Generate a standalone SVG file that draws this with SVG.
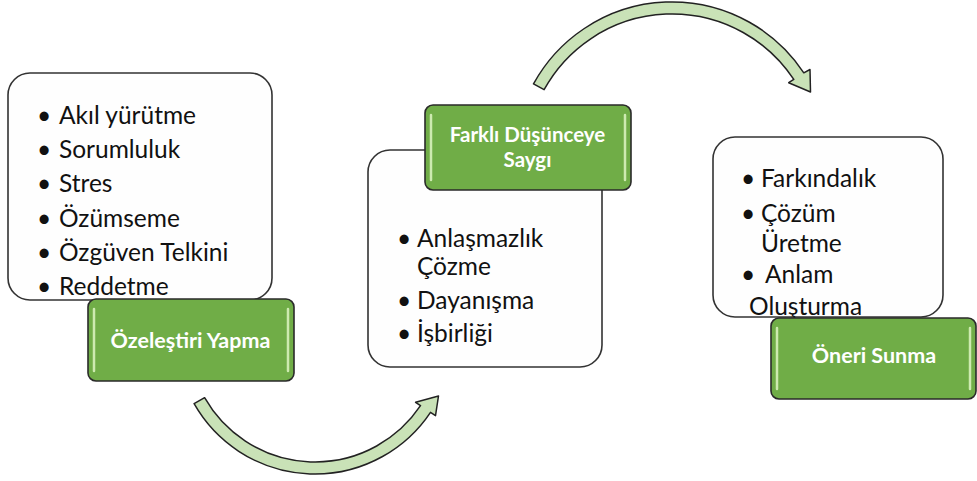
<svg xmlns="http://www.w3.org/2000/svg" width="977" height="481" viewBox="0 0 977 481">
  <defs>
    <style>
      .card { fill: #fefefe; stroke: #333333; stroke-width: 1.6; }
      .tag { fill: #70ad47; stroke: #2a2a2a; stroke-width: 1.6; }
      .shine { stroke: #cdeab0; stroke-width: 2.5; stroke-linecap: round; fill: none; }
      .item { font-family: Lato, "Noto Sans", "Liberation Sans", sans-serif; font-size: 24.5px; fill: #111111; }
      .label { font-family: Lato, "Noto Sans", "Liberation Sans", sans-serif; font-size: 21.5px; font-weight: bold; fill: #ffffff; text-anchor: middle; }
      .label.two { font-size: 20.5px; }
      .flow { fill: #c9e2b7; stroke: #222222; stroke-width: 1.5; stroke-linejoin: round; }
    </style>
  </defs>

  <rect width="977" height="481" fill="#ffffff"/>

  <!-- curved connectors -->
  <g id="connectors">
    <path class="flow" d="M194.1,403.7 A139,139 0 0 0 430.5,412.3 L435.5,415.7 L438.5,396 L415.6,402.3 L420.5,405.7 A127,127 0 0 1 204.6,397.7 Z"/>
    <path class="flow" d="M533.5,83.9 A158,158 0 0 1 803.8,72.8 L810,69.5 L810.5,92 L788.7,82.7 L793.8,79.4 A146,146 0 0 0 544.1,89.7 Z"/>
  </g>

  <!-- stage 1 -->
  <g id="stage1">
    <rect class="card" x="8" y="73" width="264" height="227" rx="22"/>
    <g class="item">
      <text x="37" y="124">•</text><text x="59" y="124">Akıl yürütme</text>
      <text x="37" y="158">•</text><text x="59" y="158">Sorumluluk</text>
      <text x="37" y="192">•</text><text x="59" y="192">Stres</text>
      <text x="37" y="226.5">•</text><text x="59" y="226.5">Özümseme</text>
      <text x="37" y="261">•</text><text x="59" y="261">Özgüven Telkini</text>
      <text x="37" y="295">•</text><text x="59" y="295">Reddetme</text>
    </g>
    <g id="stage1-tag">
      <rect class="tag" x="88" y="299" width="206" height="82" rx="8"/>
      <line class="shine" x1="94" y1="309" x2="94" y2="371"/>
      <line class="shine" x1="288" y1="309" x2="288" y2="371"/>
      <text class="label" x="190.5" y="348">Özeleştiri Yapma</text>
    </g>
  </g>

  <!-- stage 2 -->
  <g id="stage2">
    <rect class="card" x="368" y="150" width="234" height="217" rx="22"/>
    <g class="item">
      <text x="397" y="246.5">•</text><text x="417" y="246.5">Anlaşmazlık</text>
      <text x="417" y="275">Çözme</text>
      <text x="397" y="308.5">•</text><text x="417" y="308.5">Dayanışma</text>
      <text x="397" y="341.5">•</text><text x="417" y="341.5">İşbirliği</text>
    </g>
    <g id="stage2-tag">
      <rect class="tag" x="425" y="105" width="206" height="85" rx="8"/>
      <line class="shine" x1="431" y1="115" x2="431" y2="180"/>
      <line class="shine" x1="625" y1="115" x2="625" y2="180"/>
      <text class="label two" x="527.5" y="141.5">Farklı Düşünceye</text>
      <text class="label two" x="527.5" y="166.5">Saygı</text>
    </g>
  </g>

  <!-- stage 3 -->
  <g id="stage3">
    <rect class="card" x="713" y="137" width="230" height="180" rx="22"/>
    <g class="item">
      <text x="741" y="186.5">•</text><text x="761" y="186.5">Farkındalık</text>
      <text x="741" y="221.5">•</text><text x="761" y="221.5">Çözüm</text>
      <text x="761" y="251.5">Üretme</text>
      <text x="741" y="283">•</text><text x="765" y="283">Anlam</text>
      <text x="749" y="315">Oluşturma</text>
    </g>
    <g id="stage3-tag">
      <rect class="tag" x="771" y="318" width="205" height="81" rx="8"/>
      <line class="shine" x1="777" y1="328" x2="777" y2="389"/>
      <line class="shine" x1="970" y1="328" x2="970" y2="389"/>
      <text class="label" x="874" y="363">Öneri Sunma</text>
    </g>
  </g>
</svg>
